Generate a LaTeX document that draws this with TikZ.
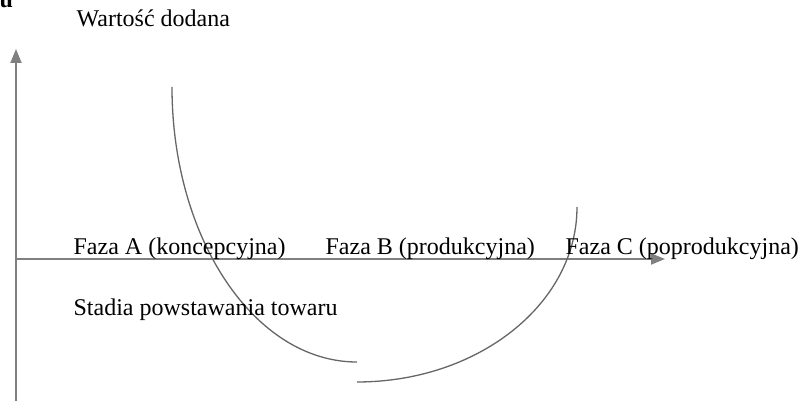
\documentclass[tikz,border=0pt]{standalone}
\usepackage{fontspec}
\setmainfont{Liberation Serif}
\usetikzlibrary{arrows.meta}

\begin{document}
\begin{tikzpicture}[x=1pt,y=1pt,line width=1.3pt,font=\fontsize{24}{28}\selectfont,
  axis/.style={draw=gray,line width=2pt,-{Triangle[length=14pt,width=11pt]}},
  curve/.style={draw=black!60,line width=1.3pt},
  lbl/.style={anchor=base west,inner sep=0pt}]
\useasboundingbox (0,0) rectangle (801,401);
\coordinate (O) at (16,142);
\coordinate (ytop) at (16,352);
\coordinate (ybot) at (16,0);
\coordinate (xend) at (665,142);
\draw[axis] (ybot)--(ytop);
\draw[axis] (O)--(xend);
\draw[curve] (172,314) arc[start angle=180,end angle=270,x radius=185,y radius=275];
\draw[curve] (357,19) arc[start angle=270,end angle=360,x radius=220,y radius=175];
\node[lbl] (u) at (-1,393) {\bfseries u};
\node[lbl] (wd) at (76,374) {Wartość dodana};
\node[lbl] (fa) at (73,146) {Faza A (koncepcyjna)};
\node[lbl] (fb) at (325,146) {Faza B (produkcyjna)};
\node[lbl] (fc) at (565,146) {Faza C (poprodukcyjna)};
\node[lbl] (st) at (73,85) {Stadia powstawania towaru};
\end{tikzpicture}
\end{document}
